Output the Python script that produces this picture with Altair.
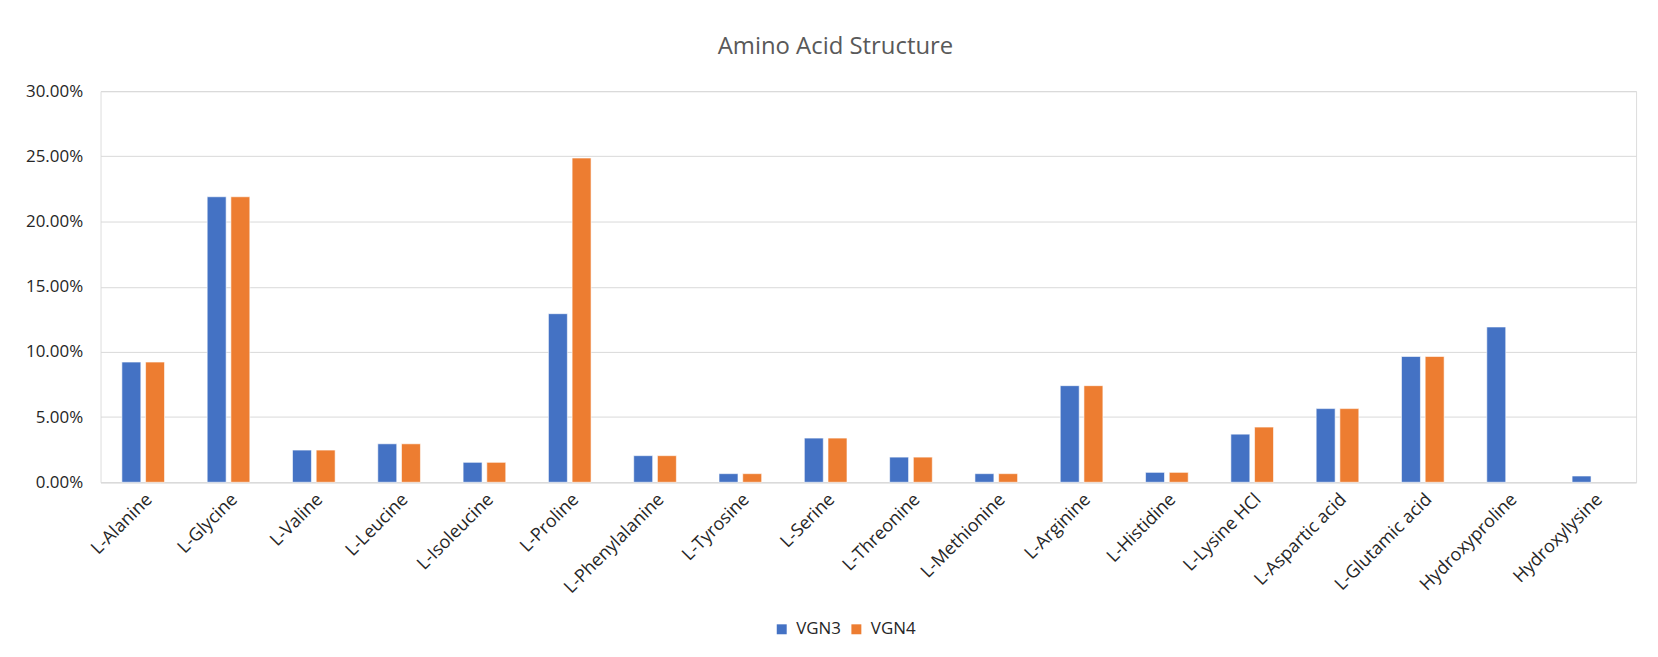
import altair as alt
import pandas as pd

categories = ["L-Alanine", "L-Glycine", "L-Valine", "L-Leucine", "L-Isoleucine",
              "L-Proline", "L-Phenylalanine", "L-Tyrosine", "L-Serine", "L-Threonine",
              "L-Methionine", "L-Arginine", "L-Histidine", "L-Lysine HCl",
              "L-Aspartic acid", "L-Glutamic acid", "Hydroxyproline", "Hydroxylysine"]
vgn3 = [9.22, 21.90, 2.47, 2.95, 1.53, 12.93, 2.04, 0.66, 3.39, 1.93,
        0.66, 7.41, 0.76, 3.69, 5.65, 9.65, 11.91, 0.48]
vgn4 = [9.22, 21.90, 2.47, 2.95, 1.53, 24.87, 2.04, 0.66, 3.39, 1.93,
        0.66, 7.41, 0.76, 4.23, 5.65, 9.65, None, None]
series = ["VGN3", "VGN4"]
colors = ["#4472C4", "#ED7D31"]

rows = []
for c, a, b in zip(categories, vgn3, vgn4):
    rows.append({"Amino": c, "Series": "VGN3", "Value": a / 100})
    if b is not None:
        rows.append({"Amino": c, "Series": "VGN4", "Value": b / 100})
df = pd.DataFrame(rows)

FONT = "Open Sans"

chart = alt.Chart(df).mark_bar(stroke="white", strokeWidth=0.6).encode(
    x=alt.X("Amino:N", sort=categories, title=None,
            scale=alt.Scale(paddingInner=0.5, paddingOuter=0.25),
            axis=alt.Axis(labelAngle=-45, labelAlign="right", labelBaseline="top",
                          labelPadding=8, ticks=False, domain=True,
                          domainColor="#D9D9D9", labelFont=FONT, labelFontSize=18,
                          labelColor="#262626", labelLimit=300)),
    xOffset=alt.XOffset("Series:N", sort=series,
                        scale=alt.Scale(paddingInner=0.2, paddingOuter=0)),
    y=alt.Y("Value:Q", title=None,
            scale=alt.Scale(domain=[0, 0.30], nice=False),
            axis=alt.Axis(values=[0, 0.05, 0.10, 0.15, 0.20, 0.25, 0.30], format=".2%",
                          domain=False, ticks=False, gridColor="#D9D9D9", gridWidth=1,
                          labelFont=FONT, labelFontSize=17, labelColor="#262626",
                          labelPadding=18)),
    color=alt.Color("Series:N", sort=series,
                    scale=alt.Scale(domain=series, range=colors),
                    legend=alt.Legend(title=None, orient="none", direction="horizontal",
                                      legendX=676, legendY=532, symbolType="square",
                                      symbolSize=100, symbolStrokeWidth=0,
                                      labelFont=FONT, labelFontSize=17,
                                      labelColor="#262626", columnPadding=6,
                                      labelOffset=6)),
).properties(
    width=1543,
    height=393,
    title=alt.TitleParams("Amino Acid Structure", font=FONT, fontSize=24,
                          fontWeight="normal", color="#595959", frame="group",
                          anchor="middle", baseline="alphabetic", offset=4, dx=-33),
    autosize=alt.AutoSizeParams(type="none"),
    padding={"left": 93, "top": 82, "right": 14, "bottom": 170},
).configure_view(stroke=None).configure(background="white")

chart.save("out.html", embed_options={"renderer": "svg", "actions": False})
